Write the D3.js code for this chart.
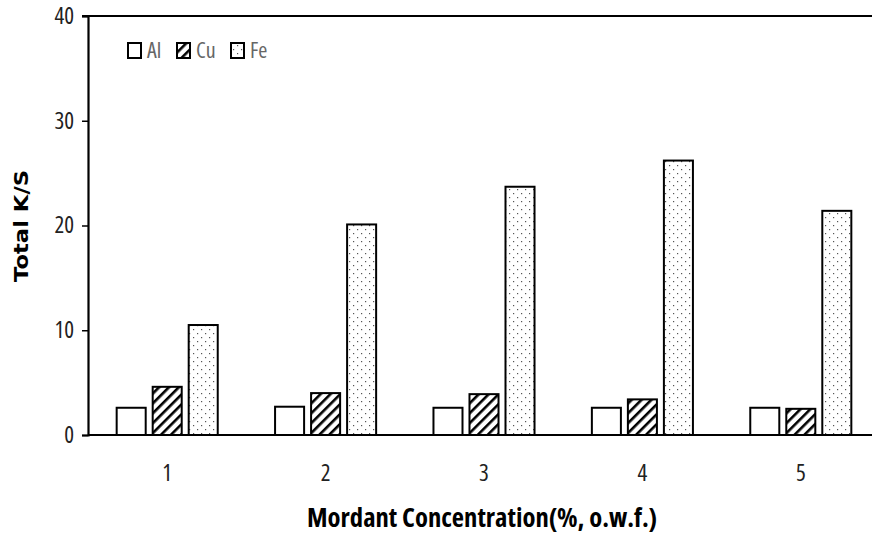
<!DOCTYPE html>
<html><head><meta charset="utf-8">
<script src="https://cdn.jsdelivr.net/npm/d3@7"></script>
<style>body{margin:0;background:#fff}svg{display:block}</style>
</head><body>
<svg id="c" width="872" height="540"></svg>
<script>
const categories = ["1","2","3","4","5"];
const seriesNames = ["Al","Cu","Fe"];
const alValues = [2.6, 2.7, 2.6, 2.6, 2.6];
const cuValues = [4.6, 4.0, 3.9, 3.4, 2.5];
const feValues = [10.5, 20.1, 23.7, 26.2, 21.4];
const yTicks = [0, 10, 20, 30, 40];

const values = [alValues, cuValues, feValues];
const svg = d3.select("#c");
const W = 872, H = 540;
const m = {left: 88, top: 16, right: -8, bottom: 105};
const narrow = "'Open Sans',sans-serif";
const x0 = d3.scaleBand().domain(categories).range([m.left, W - m.right]).paddingInner(0).paddingOuter(0);
const x1 = d3.scaleBand().domain(seriesNames).range([0, x0.bandwidth()]).paddingInner(0.194).paddingOuter(0.796);
const y = d3.scaleLinear().domain([0, 40]).range([H - m.bottom, m.top]);

const defs = svg.append("defs");
const hatch = defs.append("pattern").attr("id","hatch").attr("patternUnits","userSpaceOnUse")
  .attr("width",7).attr("height",7).attr("patternTransform","rotate(45)");
hatch.append("rect").attr("width",7).attr("height",7).attr("fill","#fff");
hatch.append("rect").attr("x",0).attr("y",0).attr("width",2.6).attr("height",7).attr("fill","#000");
const dots = defs.append("pattern").attr("id","dots").attr("patternUnits","userSpaceOnUse")
  .attr("width",8).attr("height",8);
dots.append("rect").attr("width",8).attr("height",8).attr("fill","#fff");
dots.append("rect").attr("x",1).attr("y",1).attr("width",1.2).attr("height",1.2).attr("fill","#555");
dots.append("rect").attr("x",5).attr("y",5).attr("width",1.2).attr("height",1.2).attr("fill","#555");
const fills = ["#fff","url(#hatch)","url(#dots)"];

// bars
const g = svg.append("g");
categories.forEach((c, i) => {
  seriesNames.forEach((s, j) => {
    g.append("rect")
      .attr("x", x0(c) + x1(s))
      .attr("y", y(values[j][i]))
      .attr("width", x1.bandwidth())
      .attr("height", y(0) - y(values[j][i]))
      .attr("fill", fills[j])
      .attr("stroke", "#000").attr("stroke-width", 2);
  });
});

// y axis
const yAxis = svg.append("g").attr("transform", `translate(${m.left},0)`)
  .call(d3.axisLeft(y).tickValues(yTicks).tickSize(6).tickPadding(8).tickFormat(d3.format("d")));
yAxis.select(".domain").attr("stroke","#000").attr("stroke-width",2.2);
yAxis.selectAll(".tick line").attr("stroke","#000").attr("stroke-width",1.5);
yAxis.selectAll("text").attr("font-family",narrow).attr("font-stretch","condensed")
  .attr("font-size",23).attr("fill","#222");

// top line and x baseline
svg.append("line").attr("x1", m.left - 6).attr("x2", W).attr("y1", y(40)).attr("y2", y(40))
  .attr("stroke","#000").attr("stroke-width",2.2);
svg.append("line").attr("x1", m.left).attr("x2", W).attr("y1", y(0)).attr("y2", y(0))
  .attr("stroke","#000").attr("stroke-width",2.2);

// x axis labels
const xAxis = svg.append("g").attr("transform", `translate(0,${y(0)})`)
  .call(d3.axisBottom(x0).tickSize(0).tickPadding(30));
xAxis.select(".domain").remove();
xAxis.selectAll("text").attr("font-family",narrow).attr("font-stretch","condensed")
  .attr("font-size",23).attr("fill","#222");

// axis titles
svg.append("text").attr("x", 482).attr("y", 527).attr("text-anchor","middle")
  .attr("font-family",narrow).attr("font-weight","bold").attr("font-size",26)
  .attr("font-stretch","condensed").attr("textLength",350).attr("lengthAdjust","spacingAndGlyphs")
  .text("Mordant Concentration(%, o.w.f.)");
svg.append("text").attr("transform","translate(28,226) rotate(-90)").attr("text-anchor","middle")
  .attr("font-family","Verdana,'DejaVu Sans',sans-serif").attr("font-weight","bold").attr("font-size",20)
  .attr("textLength",112).attr("lengthAdjust","spacingAndGlyphs")
  .text("Total K/S");

// legend
const legX = [128, 177, 231];
const leg = svg.append("g");
seriesNames.forEach((s, j) => {
  leg.append("rect").attr("x", legX[j]).attr("y", 43).attr("width", 13).attr("height", 15)
    .attr("fill", fills[j]).attr("stroke","#000").attr("stroke-width",2);
  leg.append("text").attr("x", legX[j] + 19).attr("y", 58)
    .attr("font-family",narrow).attr("font-stretch","condensed")
    .attr("font-size",22).attr("fill","#666").text(s);
});
</script>
</body></html>
